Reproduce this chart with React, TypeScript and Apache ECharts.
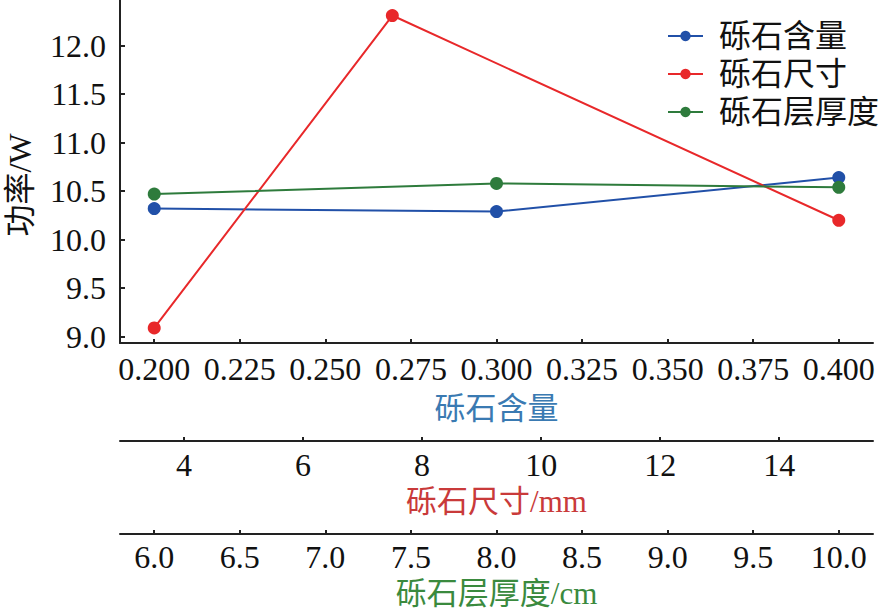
import React, { useEffect, useRef } from "react";
import * as echarts from "echarts";

const seriesNames = ["砾石含量", "砾石尺寸", "砾石层厚度"];
const contentX = [0.2, 0.3, 0.4];
const contentY = [10.32, 10.29, 10.64];
const sizeX = [3.5, 7.5, 15];
const sizeY = [9.09, 12.31, 10.2];
const thickX = [6, 8, 10];
const thickY = [10.47, 10.58, 10.54];

const yTicks = [9.0, 9.5, 10.0, 10.5, 11.0, 11.5, 12.0];
const contentTicks = [0.2, 0.225, 0.25, 0.275, 0.3, 0.325, 0.35, 0.375, 0.4];
const sizeTicks = [4, 6, 8, 10, 12, 14];
const thickTicks = [6.0, 6.5, 7.0, 7.5, 8.0, 8.5, 9.0, 9.5, 10.0];

const FONT = "'Liberation Serif', 'Noto Sans CJK SC', serif";
const AXIS = "#222";
const FS = 32;

export default function App() {
  const ref = useRef<HTMLDivElement>(null);
  useEffect(() => {
    document.body.style.margin = "0";
    const chart = echarts.init(ref.current!, undefined, { renderer: "svg" });
    const baseX = (min: number, max: number, ticks: number[], dec: number, offset: number, name: string, nameColor: string, nameGap: number, margin: number) => ({
      type: "value",
      position: "bottom",
      offset,
      min,
      max,
      name,
      nameLocation: "middle",
      nameGap,
      nameTextStyle: { color: nameColor, fontSize: 31, fontFamily: FONT },
      axisLine: { show: true, onZero: false, lineStyle: { color: AXIS, width: 2 } },
      axisTick: { show: true, inside: true, length: 4, customValues: ticks, lineStyle: { color: AXIS, width: 2 } },
      axisLabel: {
        customValues: ticks,
        formatter: (v: number) => v.toFixed(dec),
        color: "#111",
        fontSize: FS,
        fontFamily: FONT,
        margin,
      },
      splitLine: { show: false },
    });
    chart.setOption({
      animation: false,
      grid: { left: 120, right: 11, top: 0, bottom: 271, containLabel: false },
      legend: {
        orient: "vertical",
        left: 662,
        top: 15,
        itemWidth: 35,
        itemHeight: 13,
        itemGap: 6,
        data: seriesNames,
        textStyle: { fontSize: FS, fontFamily: FONT, color: "#111", padding: [0, 0, 0, 11] },
      },
      xAxis: [
        baseX(0.19, 0.41, contentTicks, 3, 0, "砾石含量", "#3a7ab2", 50, 10),
        baseX(2.925, 15.575, sizeTicks, 0, 98, "砾石尺寸/mm", "#c93a3a", 45, 8),
        baseX(5.8, 10.2, thickTicks, 1, 191, "砾石层厚度/cm", "#3a8a3e", 42, 7),
      ],
      yAxis: {
        type: "value",
        min: 8.935,
        max: 12.47,
        axisLine: { show: true, lineStyle: { color: AXIS, width: 2 } },
        axisTick: { show: true, inside: true, length: 5, customValues: yTicks, lineStyle: { color: AXIS, width: 2 } },
        axisLabel: {
          customValues: yTicks,
          formatter: (v: number) => v.toFixed(1),
          color: "#111",
          fontSize: FS,
          fontFamily: FONT,
          margin: 14,
        },
        splitLine: { show: false },
      },
      graphic: [
        {
          type: "text",
          x: 20,
          y: 185,
          rotation: Math.PI / 2,
          style: {
            text: "功率/W",
            fontSize: 32,
            fontFamily: FONT,
            fill: "#111",
            textAlign: "center",
            textVerticalAlign: "middle",
          },
        },
      ],
      series: [
        {
          name: seriesNames[0],
          type: "line",
          xAxisIndex: 0,
          data: contentX.map((x, i) => [x, contentY[i]]),
          symbol: "circle",
          symbolSize: 13,
          itemStyle: { color: "#2150a8" },
          lineStyle: { width: 2, color: "#2150a8" },
        },
        {
          name: seriesNames[1],
          type: "line",
          xAxisIndex: 1,
          data: sizeX.map((x, i) => [x, sizeY[i]]),
          symbol: "circle",
          symbolSize: 13,
          itemStyle: { color: "#e8282a" },
          lineStyle: { width: 2, color: "#e8282a" },
        },
        {
          name: seriesNames[2],
          type: "line",
          xAxisIndex: 2,
          data: thickX.map((x, i) => [x, thickY[i]]),
          symbol: "circle",
          symbolSize: 13,
          itemStyle: { color: "#2e7b3c" },
          lineStyle: { width: 2, color: "#2e7b3c" },
        },
      ],
    });
    return () => chart.dispose();
  }, []);
  return <div ref={ref} style={{ width: 884, height: 614 }} />;
}
